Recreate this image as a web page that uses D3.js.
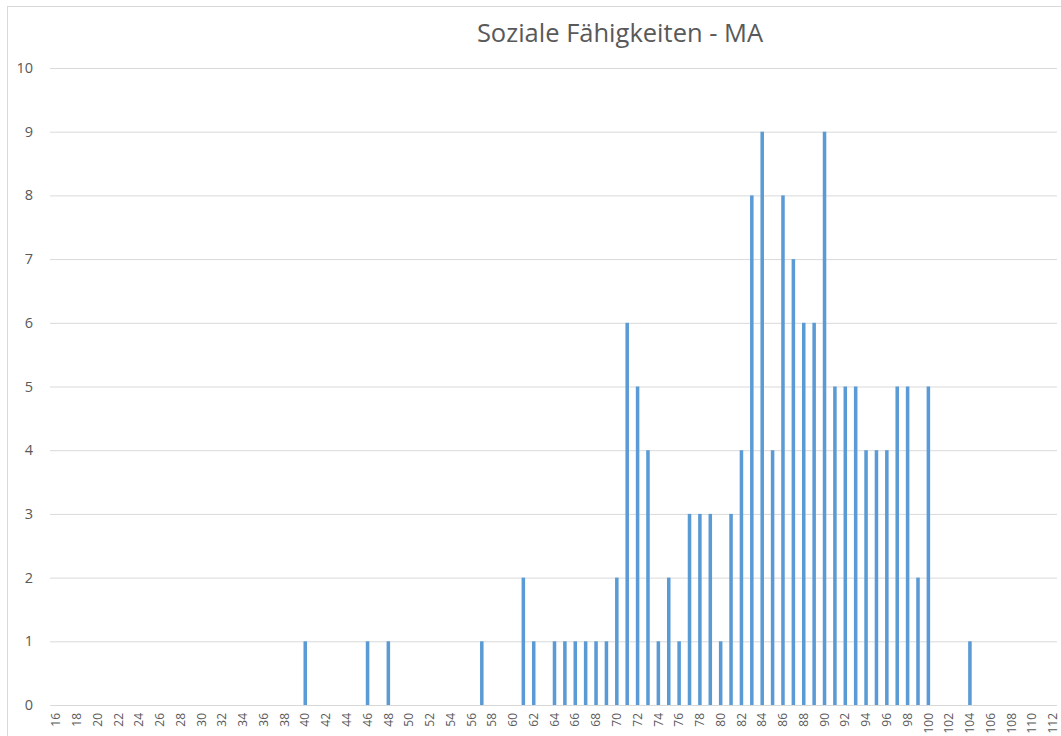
<!DOCTYPE html>
<html><head><meta charset="utf-8">
<script src="https://cdn.jsdelivr.net/npm/d3@7"></script>
<style>body{margin:0;background:#fff}svg{display:block}text{font-family:"Open Sans",sans-serif}</style>
</head><body>
<script>
const title = "Soziale Fähigkeiten - MA";
const categories = d3.range(16, 113); // 16..112
const barCategories = [40,46,48,57,61,62,64,65,66,67,68,69,70,71,72,73,74,75,76,77,78,79,80,81,82,83,84,85,86,87,88,89,90,91,92,93,94,95,96,97,98,99,100,104];
const barValues =     [ 1, 1, 1, 1, 2, 1, 1, 1, 1, 1, 1, 1, 2, 6, 5, 4, 1, 2, 1, 3, 3, 3, 1, 3, 4, 8, 9, 4, 8, 7, 6, 6, 9, 5, 5, 5, 4, 4, 4, 5, 5, 2, 5, 1];
const yTicks = [0,1,2,3,4,5,6,7,8,9,10];

const W = 1061, H = 736;
const svg = d3.select("body").append("svg").attr("width", W).attr("height", H);
svg.append("rect").attr("x",7.5).attr("y",6.5).attr("width",W).attr("height",H).attr("fill","none").attr("stroke","#d9d9d9");

const x = d3.scaleBand().domain(categories).range([50.8, 1058.2]).paddingInner(0.66).paddingOuter(0.33);
const y = d3.scaleLinear().domain([0,10]).range([705, 68]);

// gridlines
svg.append("g").selectAll("line").data(yTicks).join("line")
  .attr("x1",50).attr("x2",1057).attr("y1",d=>y(d)+0.5).attr("y2",d=>y(d)+0.5)
  .attr("stroke","#d9d9d9").attr("stroke-width",1);

// y labels
svg.append("g").selectAll("text").data(yTicks).join("text")
  .attr("x",33).attr("y",d=>y(d)).attr("dy","0.35em").attr("text-anchor","end")
  .attr("font-size",14.5).attr("fill","#595959").text(d=>d);

// bars
const data = barCategories.map((c,i)=>({c, v: barValues[i]}));
svg.append("g").selectAll("rect").data(data).join("rect")
  .attr("x",d=>x(d.c)).attr("width",x.bandwidth())
  .attr("y",d=>y(d.v)).attr("height",d=>y(0)-y(d.v))
  .attr("fill","#5b9bd5");

// x labels
const xAxis = d3.axisBottom(x).tickValues(categories.filter(d=>d%2===0)).tickSize(0).tickPadding(0);
const gx = svg.append("g").attr("transform","translate(0,705)").call(xAxis);
gx.select(".domain").remove();
gx.selectAll("text").attr("transform","rotate(-90)").attr("text-anchor","end")
  .attr("x",-8).attr("y",0).attr("dy","0.35em")
  .attr("font-size",12).attr("fill","#595959").attr("font-family","Open Sans, sans-serif");

svg.append("text").attr("x",620).attr("y",42).attr("text-anchor","middle")
  .attr("font-size",25.5).attr("fill","#595959").text(title);
</script>
</body></html>
